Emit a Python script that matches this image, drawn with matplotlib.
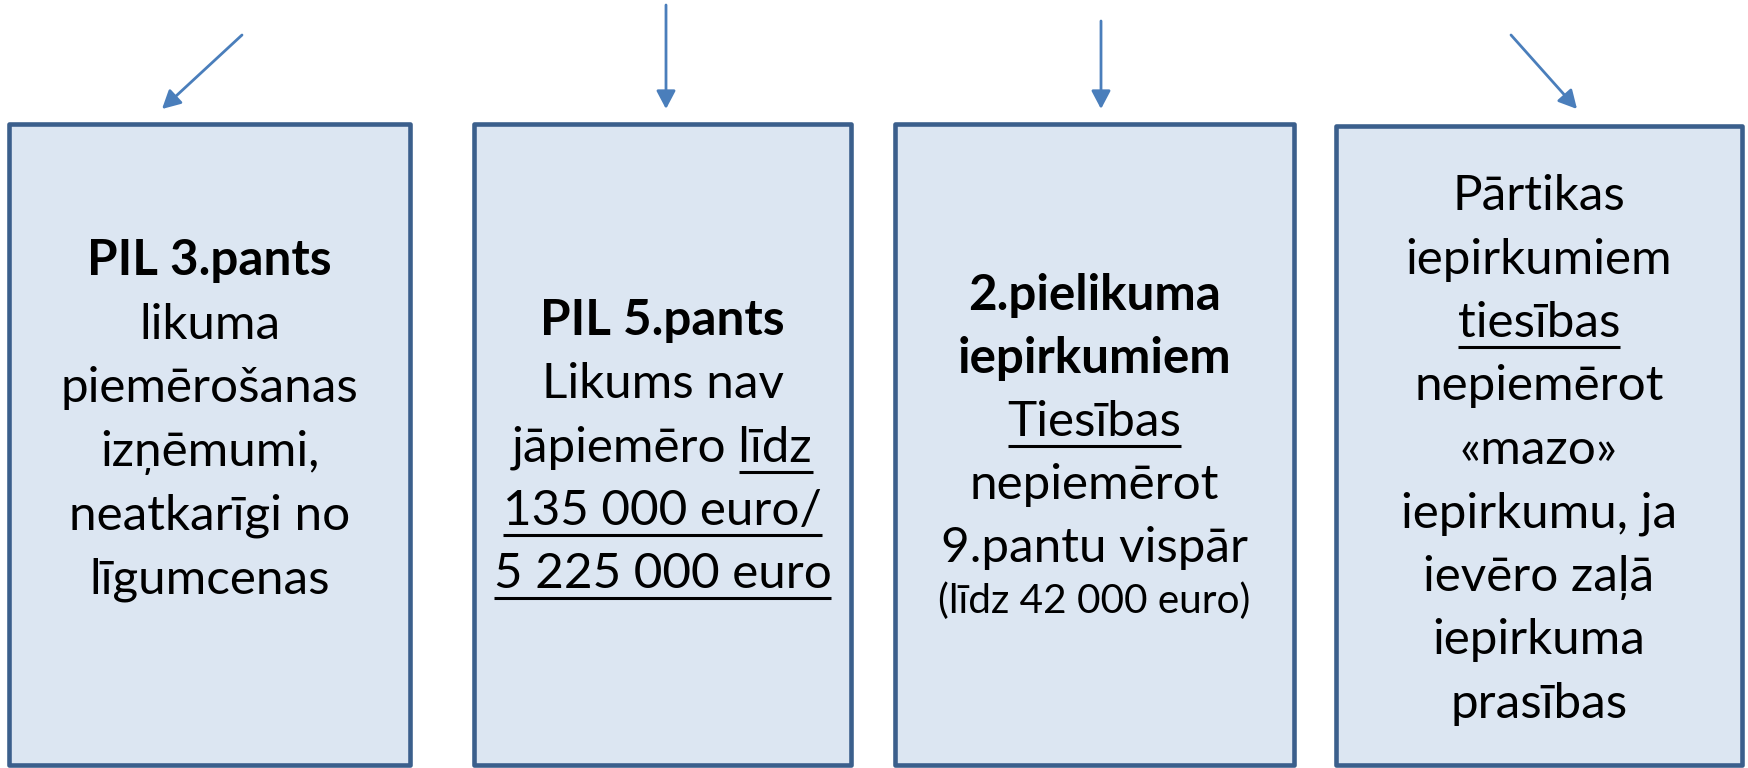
import matplotlib
matplotlib.use("Agg")
import matplotlib.pyplot as plt
from matplotlib.patches import Rectangle, FancyArrowPatch

FONT = ['Lato', 'DejaVu Sans']

# ---- content ----
box1_lines = ["PIL 3.pants", "likuma", "piemērošanas", "izņēmumi,", "neatkarīgi no", "līgumcenas"]
box1_bold = [True, False, False, False, False, False]
box1_under = [None, None, None, None, None, None]
box1_small = [False] * 6

box2_lines = ["PIL 5.pants", "Likums nav", "jāpiemēro līdz", "135 000 euro/", "5 225 000 euro"]
box2_bold = [True, False, False, False, False]
box2_under = [None, None, "līdz", "135 000 euro/", "5 225 000 euro"]
box2_small = [False] * 5

box3_lines = ["2.pielikuma", "iepirkumiem", "Tiesības", "nepiemērot", "9.pantu vispār", "(līdz 42 000 euro)"]
box3_bold = [True, True, False, False, False, False]
box3_under = [None, None, "Tiesības", None, None, None]
box3_small = [False, False, False, False, False, True]

box4_lines = ["Pārtikas", "iepirkumiem", "tiesības", "nepiemērot", "«mazo»", "iepirkumu, ja",
              "ievēro zaļā", "iepirkuma", "prasības"]
box4_bold = [False] * 9
box4_under = [None, None, "tiesības", None, None, None, None, None, None]
box4_small = [False] * 9

# ---- layout (pixel space) ----
W, H = 1748, 768
box_x = [(9, 410), (474, 851), (895, 1294), (1336, 1742)]
box_top = [124, 124, 124, 126]
box_bottom = 765
first_baseline = [275, 335, 310, 210]
line_step = [63.6, 63.3, 63.0, 63.5]
small_baseline = 613

arrows = [((242, 35), (162, 109)), ((666, 5), (666, 109)),
          ((1101, 21), (1101, 109)), ((1511, 35), (1577, 109))]

FILL = '#DCE6F2'
EDGE = '#3B5F8C'
ARROW = '#4A7EBB'

fig = plt.figure(figsize=(W / 100, H / 100), dpi=100)
fig.patch.set_facecolor('white')
ax = fig.add_axes([0, 0, 1, 1])
ax.set_xlim(0, W)
ax.set_ylim(H, 0)
ax.axis('off')

# fit font size
tmp = ax.text(0, 0, "piemērošanas", fontsize=30, family=FONT)
fig.canvas.draw()
renderer = fig.canvas.get_renderer()
wtmp = tmp.get_window_extent(renderer).width
tmp.remove()
FS = 30 * 298 / wtmp
FS_SMALL = FS * 0.82

for (x0, x1), top in zip(box_x, box_top):
    ax.add_patch(Rectangle((x0, top), x1 - x0, box_bottom - top, facecolor=FILL,
                           edgecolor=EDGE, linewidth=3.3, joinstyle='round', zorder=1))

for (p0, p1) in arrows:
    ax.add_patch(FancyArrowPatch(p0, p1, arrowstyle='-|>,head_length=1.1,head_width=0.58',
                                 mutation_scale=10, color=ARROW, linewidth=2.0,
                                 shrinkA=0, shrinkB=0, zorder=3))

boxes = [(box1_lines, box1_bold, box1_under, box1_small),
         (box2_lines, box2_bold, box2_under, box2_small),
         (box3_lines, box3_bold, box3_under, box3_small),
         (box4_lines, box4_bold, box4_under, box4_small)]

inv = ax.transData.inverted()
for bi, (lines, bolds, unders, smalls) in enumerate(boxes):
    cx = (box_x[bi][0] + box_x[bi][1]) / 2
    for li, txt in enumerate(lines):
        if smalls[li]:
            y = small_baseline
            fs = FS_SMALL
        else:
            y = first_baseline[bi] + li * line_step[bi]
            fs = FS
        weight = 'bold' if bolds[li] else 'normal'
        t = ax.text(cx, y, txt, fontsize=fs, fontweight=weight, family=FONT,
                    ha='center', va='baseline', color='black', zorder=4)
        if unders[li]:
            bb = t.get_window_extent(renderer)
            s = ax.text(0, 0, unders[li], fontsize=fs, fontweight=weight, family=FONT)
            ws = s.get_window_extent(renderer).width
            s.remove()
            xr = inv.transform((bb.x1, 0))[0]
            xl = inv.transform((bb.x1 - ws, 0))[0]
            ax.plot([xl, xr], [y + 10, y + 10], color='black', linewidth=2.2,
                    solid_capstyle='butt', zorder=4)

fig.savefig('out.png', dpi=100, facecolor='white')
